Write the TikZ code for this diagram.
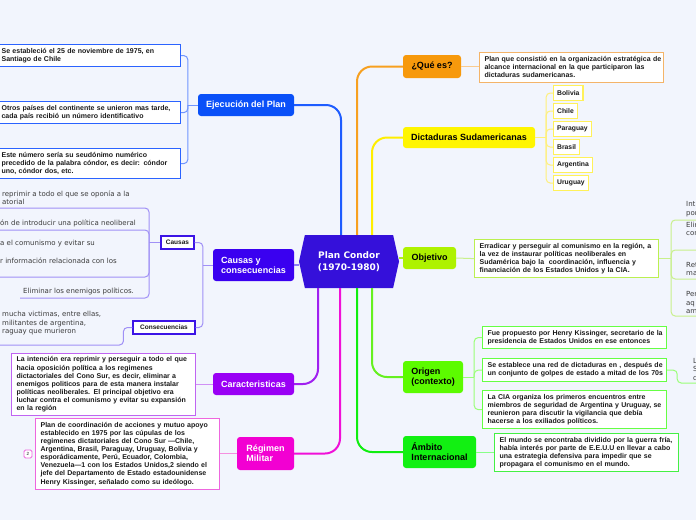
\documentclass[tikz,border=0pt]{standalone}
\usepackage{fontspec}
\setmainfont{Liberation Sans}
\newfontfamily\dvs{DejaVu Sans}
\usetikzlibrary{shapes.symbols,calc}
\newcommand{\boxlines}[1]{\noindent\begin{tabular}{@{}l@{}}#1\end{tabular}}
\definecolor{bg}{HTML}{F2F5FD}
\definecolor{txt}{HTML}{1A1A1A}
\definecolor{gtxt}{HTML}{3C3C3C}
\definecolor{centralF}{HTML}{3510DA}
\definecolor{ejF}{HTML}{0A50F8}
\definecolor{ejL}{HTML}{1E5CFF}
\definecolor{ejS}{HTML}{7095FF}
\definecolor{ejB}{HTML}{2B63FF}
\definecolor{cyF}{HTML}{3A00F0}
\definecolor{cyL}{HTML}{8C7CF6}
\definecolor{cyS}{HTML}{A090F6}
\definecolor{cyB}{HTML}{3C14E6}
\definecolor{carF}{HTML}{9A00F5}
\definecolor{carL}{HTML}{A020F0}
\definecolor{carS}{HTML}{D090F5}
\definecolor{carB}{HTML}{C064F2}
\definecolor{regF}{HTML}{F200D2}
\definecolor{regL}{HTML}{F010D8}
\definecolor{regS}{HTML}{F590E0}
\definecolor{regB}{HTML}{EE66DE}
\definecolor{queF}{HTML}{F7990C}
\definecolor{queL}{HTML}{F7A020}
\definecolor{queS}{HTML}{F9CB90}
\definecolor{queB}{HTML}{F4B469}
\definecolor{dictF}{HTML}{FFF500}
\definecolor{dictL}{HTML}{FFEE00}
\definecolor{dictS}{HTML}{FFF07A}
\definecolor{dictB}{HTML}{FFF15A}
\definecolor{objF}{HTML}{AEF200}
\definecolor{objL}{HTML}{B0F020}
\definecolor{objS}{HTML}{C8F08A}
\definecolor{objB}{HTML}{BBF050}
\definecolor{origF}{HTML}{5CFB00}
\definecolor{origL}{HTML}{66F020}
\definecolor{origS}{HTML}{99FF77}
\definecolor{origB}{HTML}{66FF44}
\definecolor{ambF}{HTML}{12F012}
\definecolor{ambL}{HTML}{10EE10}
\definecolor{ambS}{HTML}{88FF88}
\definecolor{ambB}{HTML}{44F044}
\begin{document}
\begin{tikzpicture}[x=1pt,y=-1pt,
 mnode/.style={rounded corners=3pt, inner sep=0pt, align=left, font=\bfseries\fontsize{9}{10}\selectfont},
 tbox/.style={draw, fill=white, line width=1.2pt, anchor=north west, inner xsep=5pt, inner ysep=0pt, text width=174pt, align=left, text=txt, font=\bfseries\fontsize{7}{8.1}\selectfont},
 cbox/.style={draw=dictB, fill=white, line width=1.3pt, anchor=west, inner xsep=3.5pt, inner ysep=0pt, minimum height=15pt, text=txt, font=\bfseries\fontsize{6.8}{8}\selectfont},
 sbox/.style={draw=cyB, fill=white, line width=1.1pt, inner sep=0pt, text=txt, font=\bfseries\fontsize{6.5}{8}\selectfont},
 itxt/.style={anchor=west, inner sep=0pt, align=left, text=gtxt, font=\dvs\fontsize{7}{8.5}\selectfont},
 branch/.style={line width=2pt, rounded corners=15pt},
 sub/.style={line width=1pt, rounded corners=4pt}]
\useasboundingbox (0,0) rectangle (696,520);
\fill[bg] (0,0) rectangle (696,520);

% central
\node[signal, signal to=west and east, signal pointer angle=155, fill=centralF,
  minimum width=100pt, minimum height=53pt, inner sep=0pt, text=white, align=center,
  font=\dvs\bfseries\fontsize{9}{12}\selectfont] (root) at (349,261.5) {Plan Condor\\(1970-1980)};

% right main nodes
\node[mnode, fill=queF, minimum width=58pt, minimum height=23pt] (que) at (432,66.5) {¿Qué es?};
\node[mnode, fill=dictF, minimum width=132pt, minimum height=21pt] (dict) at (469,137.5) {Dictaduras Sudamericanas};
\node[mnode, fill=objF, minimum width=53pt, minimum height=22pt] (obj) at (429.5,258) {Objetivo};
\node[mnode, fill=origF, minimum width=60pt, minimum height=32pt] (orig) at (433,377) {Origen\\(contexto)};
\node[mnode, fill=ambF, minimum width=73pt, minimum height=32pt] (amb) at (439.5,452) {Ámbito\\Internacional};

% left main nodes
\node[mnode, fill=ejF, text=white, minimum width=96pt, minimum height=22pt] (ejec) at (246,105) {Ejecución del Plan};
\node[mnode, fill=cyF, text=white, minimum width=81pt, minimum height=32pt] (cyc) at (253.5,265) {Causas y\\consecuencias};
\node[mnode, fill=carF, text=white, minimum width=81pt, minimum height=22pt] (car) at (253.5,384) {Caracteristicas};
\node[mnode, fill=regF, text=white, minimum width=57pt, minimum height=33pt] (reg) at (265.5,453.5) {Régimen\\Militar};

% right boxes
\node[tbox, draw=queB, minimum height=30pt] (quebox) at (479,52) {\boxlines{Plan que consistió en la organización estratégica de\\alcance internacional en la que participaron las\\dictaduras sudamericanas.}};
\node[cbox] (bol) at (553,93) {Bolivia};
\node[cbox] (chi) at (553,111) {Chile};
\node[cbox] (par) at (553,129) {Paraguay};
\node[cbox] (bra) at (553,147) {Brasil};
\node[cbox] (arg) at (553,165) {Argentina};
\node[cbox] (uru) at (553,183) {Uruguay};
\node[tbox, draw=objB, minimum height=38pt] (objbox) at (474,239) {\boxlines{Erradicar y perseguir al comunismo en la región, a\\la vez de instaurar políticas neoliberales en\\Sudamérica bajo la\ \ coordinación, influencia y\\financiación de los Estados Unidos y la CIA.}};
\node[itxt] (r1) at (686,209) {Int\\por};
\node[itxt] (r2) at (686,229) {Elim\\con};
\node[itxt] (r3) at (686,269) {Ret\\ma};
\node[itxt] (r4) at (686,302.5) {Per\\aq\\am};
\node[tbox, draw=origB, minimum height=22pt] (ob1) at (482,326) {\boxlines{Fue propuesto por Henry Kissinger, secretario de la\\presidencia de Estados Unidos en ese entonces}};
\node[tbox, draw=origB, minimum height=23pt] (ob2) at (482,358) {\boxlines{Se establece una red de dictaduras en , después de\\un conjunto de golpes de estado a mitad de los 70s}};
\node[tbox, draw=origB, minimum height=38pt] (ob3) at (482,390) {\boxlines{La CIA organiza los primeros encuentros entre\\miembros de seguridad de Argentina y Uruguay, se\\reunieron para discutir la vigilancia que debía\\hacerse a los exiliados políticos.}};
\node[itxt] (lx) at (693,369) {L\\S\\d};
\node[tbox, draw=ambB, minimum height=38pt] (ambbox) at (494,433) {\boxlines{El mundo se encontraba dividido por la guerra fría,\\había interés por parte de E.E.U.U en llevar a cabo\\una estrategia defensiva para impedir que se\\propagara el comunismo en el mundo.}};

% left boxes
\node[tbox, draw=ejB, minimum height=22pt] (eb1) at (-4,44) {\boxlines{Se estableció el 25 de noviembre de 1975, en\\Santiago de Chile}};
\node[tbox, draw=ejB, minimum height=22pt] (eb2) at (-4,101) {\boxlines{Otros países del continente se unieron mas tarde,\\cada país recibió un número identificativo}};
\node[tbox, draw=ejB, minimum height=30pt] (eb3) at (-4,148) {\boxlines{Este número sería su seudónimo numérico\\precedido de la palabra cóndor, es decir: cóndor\\uno, cóndor dos, etc.}};
\node[sbox, minimum width=33pt, minimum height=13pt] (causas) at (177.5,242.5) {Causas};
\node[sbox, minimum width=62pt, minimum height=13pt] (consec) at (164,327.5) {Consecuencias};
\node[itxt] (c1) at (2,197.5) {reprimir a todo el que se oponía a la\\atorial};
\node[itxt] (c2) at (0,223) {ón de introducir una política neoliberal};
\node[itxt] (c3) at (0,244) {a el comunismo y evitar su};
\node[itxt] (c4) at (0,261) {r información relacionada con los};
\node[itxt] (c5) at (23,291) {Eliminar los enemigos políticos.};
\node[itxt] (q1) at (2,323.5) {mucha victimas, entre ellas,\\militantes de argentina,\\raguay que murieron};
\node[tbox, draw=carB, minimum height=62pt] (carbox) at (11,353) {\boxlines{La intención era reprimir y perseguir a todo el que\\hacia oposición política a los regimenes\\dictactoriales del Cono Sur, es decir, eliminar a\\enemigos politicos para de esta manera instalar\\políticas neoliberales. El principal objetivo era\\luchar contra el comunismo y evitar su expansión\\en la región}};
\node[tbox, draw=regB, minimum height=71pt] (regbox) at (35,418) {\boxlines{Plan de coordinación de acciones y mutuo apoyo\\establecido en 1975 por las cúpulas de los\\regimenes dictatoriales del Cono Sur —Chile,\\Argentina, Brasil, Paraguay, Uruguay, Bolivia y\\esporádicamente, Perú, Ecuador, Colombia,\\Venezuela—1 con los Estados Unidos,2 siendo el\\jefe del Departamento de Estado estadounidense\\Henry Kissinger, señalado como su ideólogo.}};
\node[draw=regB, fill=white, rounded corners=1.5pt, line width=0.8pt, minimum size=8pt, inner sep=0pt, text=txt, font=\fontsize{4.5}{5}\selectfont] (badge) at (28,454) {2};

% main branches
\draw[branch, ejL] ([xshift=-8pt]root.north) |- (ejec.east);
\draw[branch, queL] ([xshift=8pt]root.north) |- (que.west);
\draw[branch, dictL] ([xshift=23pt]root.north) |- (dict.west);
\draw[branch, carL] ([xshift=-31pt]root.south) |- (car.east);
\draw[branch, regL] ([xshift=-9pt]root.south) |- (reg.east);
\draw[branch, ambL] ([xshift=8pt]root.south) |- (amb.west);
\draw[branch, origL] ([xshift=23pt]root.south) |- (orig.west);
\draw[line width=1.5pt, cyL] (cyc.east) -- (cyc.east -| root.west);
\draw[line width=1.5pt, objL] (obj.west) -- (obj.west -| root.east);

% sub branches right
\draw[sub, queS] (que.east) -- (que.east -| quebox.west);
\coordinate (dT) at ($(dict.east)+(11pt,0)$);
\draw[sub, dictS] (dict.east) -- (dT);
\draw[sub, dictS] (bol.west) -| (dT) |- (uru.west);
\foreach \n in {chi,par,bra,arg} \draw[sub, dictS] (\n.west) -| (dT);
\draw[sub, objS] (obj.east) -- (objbox.west);
\coordinate (oT) at ($(objbox.east)+(12pt,0)$);
\coordinate (o1) at (700,220);
\coordinate (o2) at (700,250);
\coordinate (o3) at (700,279);
\coordinate (o4) at (700,316);
\draw[sub, objS] (objbox.east) -- (oT);
\draw[sub, objS] (o1) -| (oT) |- (o4);
\draw[sub, objS] (o2) -| (oT);
\draw[sub, objS] (o3) -| (oT);
\coordinate (gT) at ($(orig.east)+(11pt,0)$);
\draw[sub, origS] (orig.east) -- (gT);
\draw[sub, origS] (ob1.west) -| (gT) |- (ob3.west);
\draw[sub, origS] (ob2.west) -| (gT);
\coordinate (lE) at (700,383);
\draw[sub, origS] (ob2.east) -- ++(10pt,0) |- (lE);
\draw[sub, ambS] (amb.east) -- (amb.east -| ambbox.west);

% sub branches left
\coordinate (ejT) at ($(ejec.west)+(-10pt,0)$);
\draw[sub, ejS] (ejec.west) -- (ejT);
\draw[sub, ejS] (eb1.east) -| (ejT) |- (eb3.east);
\draw[sub, ejS] (eb2.east) -| (ejT);
\coordinate (cyT) at ($(cyc.west)+(-10pt,0)$);
\draw[sub, cyS] (cyc.west) -- (cyT);
\draw[sub, cyS] (causas.east) -| (cyT) |- (consec.east);
\coordinate (u1) at (-5,208);
\coordinate (u2) at (-5,230);
\coordinate (u3) at (-5,277);
\coordinate (u5) at (20,298);
\coordinate (ctA) at (149,298);
\coordinate (ctM) at (causas.west -| ctA);
\draw[sub, cyS] (u1) -| (ctA) -- (u5);
\draw[sub, cyS] (u2) -| (ctM);
\draw[sub, cyS] (u3) -| (ctM);
\draw[sub, cyS] (causas.west) -- (ctM);
\coordinate (cv1) at (-5,345);
\draw[sub, cyS] (consec.west) -- ++(-9pt,0) |- (cv1);
\draw[sub, carS] (car.west) -- (car.west -| carbox.east);
\draw[sub, regS] (reg.west) -- (reg.west -| regbox.east);
\end{tikzpicture}
\end{document}
